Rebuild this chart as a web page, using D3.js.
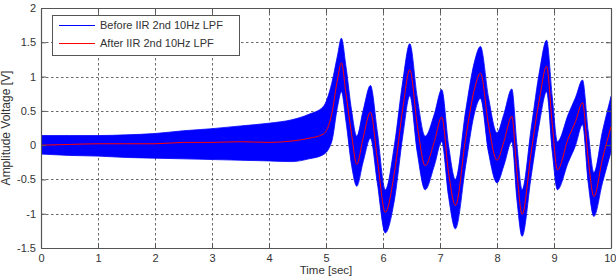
<!DOCTYPE html>
<html lang="en">
    <head>
        <meta charset="utf-8">
        <title>IIR 2nd 10Hz LPF</title>
        <script src="https://d3js.org/d3.v7.min.js"></script>
        <style>
            body {
                margin: 0;
                background-color: #ffffff;
            }
            svg {
                font-family: "Liberation Sans", Arial, sans-serif;
                display: block;
            }
            .tick text {
                font-size: 11px;
                fill: #333333;
            }
            .grid line {
                stroke: #444444;
                stroke-dasharray: 2.5, 2.5;
                stroke-width: 0.8;
            }
        </style>
    </head>
    <body>
        <svg id="chart"></svg>
        <script>
            //data
            const timeSec = [0, 0.5, 1.0, 1.5, 2.0, 2.5, 3.0, 3.5, 4.0, 4.4, 4.7, 4.95, 5.1, 5.2, 5.27, 5.35, 5.45, 5.54, 5.65, 5.78, 5.9, 6.04, 6.2, 6.35, 6.47, 6.6, 6.74, 6.9, 7.03, 7.15, 7.27, 7.45, 7.6, 7.71, 7.85, 8.0, 8.12, 8.26, 8.35, 8.44, 8.6, 8.75, 8.87, 8.97, 9.06, 9.25, 9.38, 9.5, 9.6, 9.7, 9.85, 10.0];
            const afterLpf = [0.00, 0.01, 0.02, 0.02, 0.02, 0.04, 0.04, 0.05, 0.04, 0.06, 0.10, 0.16, 0.45, 0.95, 1.20, 0.75, 0.15, -0.28, 0.10, 0.48, -0.20, -0.98, -0.40, 0.55, 1.10, 0.30, -0.30, 0.05, 0.41, -0.40, -0.88, 0.10, 0.80, 1.05, 0.30, -0.22, 0.05, 0.42, -0.40, -1.01, -0.10, 0.70, 1.15, 0.30, -0.36, 0.10, 0.35, 0.62, -0.20, -0.75, -0.20, 0.27];
            const beforeHigh = [0.14, 0.14, 0.14, 0.15, 0.17, 0.21, 0.24, 0.28, 0.32, 0.37, 0.45, 0.56, 0.90, 1.30, 1.56, 1.15, 0.50, 0.13, 0.50, 0.87, 0.20, -0.65, 0.00, 0.95, 1.48, 0.70, 0.13, 0.45, 0.81, 0.00, -0.50, 0.50, 1.20, 1.44, 0.70, 0.18, 0.45, 0.82, 0.00, -0.65, 0.25, 1.10, 1.53, 0.70, 0.05, 0.45, 0.70, 0.95, 0.20, -0.40, 0.20, 0.71];
            const beforeLow = [-0.13, -0.15, -0.16, -0.18, -0.19, -0.20, -0.21, -0.22, -0.23, -0.24, -0.20, -0.14, 0.05, 0.55, 0.78, 0.35, -0.30, -0.60, -0.25, 0.10, -0.55, -1.28, -0.80, 0.15, 0.72, -0.10, -0.65, -0.30, 0.05, -0.75, -1.22, -0.30, 0.45, 0.68, -0.10, -0.55, -0.30, 0.05, -0.80, -1.33, -0.45, 0.35, 0.78, -0.10, -0.65, -0.25, 0.00, 0.30, -0.55, -1.04, -0.55, -0.10];
            const xTicks = [0, 1, 2, 3, 4, 5, 6, 7, 8, 9, 10];
            const yTicks = [-1.5, -1, -0.5, 0, 0.5, 1, 1.5, 2];
            const legendLabels = ["Before IIR 2nd 10Hz LPF", "After IIR 2nd 10Hz LPF"];
            const legendColors = ["#0000ff", "#ff0000"];

            const samples = timeSec.map((t, i) => ({ t: t, hi: beforeHigh[i], lo: beforeLow[i], filt: afterLpf[i] }));

            //chart dimensions
            const width = 616;
            const height = 277;
            const margin = { top: 8, right: 5, bottom: 29, left: 41 };
            const innerW = width - margin.left - margin.right;
            const innerH = height - margin.top - margin.bottom;

            const svg = d3.select("#chart")
                    .attr("width", width)
                    .attr("height", height);

            const g = svg.append("g")
                    .attr("transform", `translate(${margin.left}, ${margin.top})`);

            //scales
            const xScale = d3.scaleLinear().domain([0, 10]).range([0, innerW]);
            const yScale = d3.scaleLinear().domain([-1.5, 2]).range([innerH, 0]);

            g.append("clipPath")
                    .attr("id", "clip")
                    .append("rect")
                    .attr("width", innerW)
                    .attr("height", innerH);

            //grid
            g.append("g")
                    .attr("class", "grid")
                    .selectAll("line")
                    .data(xTicks.slice(1, -1))
                    .join("line")
                    .attr("x1", d => Math.round(xScale(d)) + 0.5)
                    .attr("x2", d => Math.round(xScale(d)) + 0.5)
                    .attr("y1", 0)
                    .attr("y2", innerH);

            g.append("g")
                    .attr("class", "grid")
                    .selectAll("line")
                    .data(yTicks.slice(1, -1))
                    .join("line")
                    .attr("x1", 0)
                    .attr("x2", innerW)
                    .attr("y1", d => Math.round(yScale(d)) + 0.5)
                    .attr("y2", d => Math.round(yScale(d)) + 0.5);

            //signals
            const plot = g.append("g").attr("clip-path", "url(#clip)");

            plot.append("path")
                    .datum(samples)
                    .attr("fill", legendColors[0])
                    .attr("stroke", legendColors[0])
                    .attr("stroke-width", 0.8)
                    .attr("d", d3.area()
                        .curve(d3.curveMonotoneX)
                        .x(d => xScale(d.t))
                        .y0(d => yScale(d.lo))
                        .y1(d => yScale(d.hi)));

            plot.append("path")
                    .datum(samples)
                    .attr("fill", "none")
                    .attr("stroke", legendColors[1])
                    .attr("stroke-width", 1)
                    .attr("d", d3.line()
                        .curve(d3.curveMonotoneX)
                        .x(d => xScale(d.t))
                        .y(d => yScale(d.filt)));

            //axes, ticks pointing inward like matlab
            const fmt = d => String(d);
            const axisColor = "#555555";

            const xAxis = g.append("g")
                    .attr("transform", `translate(0, ${innerH})`)
                    .call(d3.axisBottom(xScale).tickValues(xTicks).tickFormat(fmt).tickSizeInner(-5).tickSizeOuter(0).tickPadding(6));
            const yAxis = g.append("g")
                    .call(d3.axisLeft(yScale).tickValues(yTicks).tickFormat(fmt).tickSizeInner(-5).tickSizeOuter(0).tickPadding(5));
            const topAxis = g.append("g")
                    .call(d3.axisTop(xScale).tickValues(xTicks).tickFormat("").tickSizeInner(-5).tickSizeOuter(0));
            const rightAxis = g.append("g")
                    .attr("transform", `translate(${innerW}, 0)`)
                    .call(d3.axisRight(yScale).tickValues(yTicks).tickFormat("").tickSizeInner(-5).tickSizeOuter(0));

            [xAxis, yAxis, topAxis, rightAxis].forEach(a => {
                a.selectAll("path, line").attr("stroke", axisColor);
                a.select(".domain").attr("stroke-width", 1.2);
            });

            // last x label sits against the right edge
            xAxis.selectAll(".tick text")
                    .filter(d => d === 10)
                    .attr("text-anchor", "end")
                    .attr("dx", "5");

            //axis labels
            svg.append("text")
                    .attr("x", margin.left + innerW / 2)
                    .attr("y", 274)
                    .attr("text-anchor", "middle")
                    .attr("font-size", 11.5)
                    .attr("fill", "#333333")
                    .text("Time [sec]");

            svg.append("text")
                    .attr("transform", `translate(10, ${margin.top + innerH / 2}) rotate(-90)`)
                    .attr("text-anchor", "middle")
                    .attr("font-size", 12)
                    .attr("fill", "#333333")
                    .text("Amplitude Voltage [V]");

            //legend
            const legend = svg.append("g").attr("transform", "translate(52, 15)");
            legend.append("rect")
                    .attr("x", 0.5)
                    .attr("y", 0.5)
                    .attr("width", 187)
                    .attr("height", 40)
                    .attr("fill", "#ffffff")
                    .attr("stroke", "#555555");

            legendLabels.forEach((label, i) => {
                const row = legend.append("g")
                        .attr("transform", `translate(0, ${10.5 + i * 18})`);
                row.append("line")
                        .attr("x1", 7)
                        .attr("x2", 43)
                        .attr("stroke", legendColors[i])
                        .attr("stroke-width", 1);
                row.append("text")
                        .attr("x", 48)
                        .attr("dy", "0.35em")
                        .attr("font-size", 11)
                        .attr("fill", "#333333")
                        .text(label);
            });
        </script>
    </body>
</html>
